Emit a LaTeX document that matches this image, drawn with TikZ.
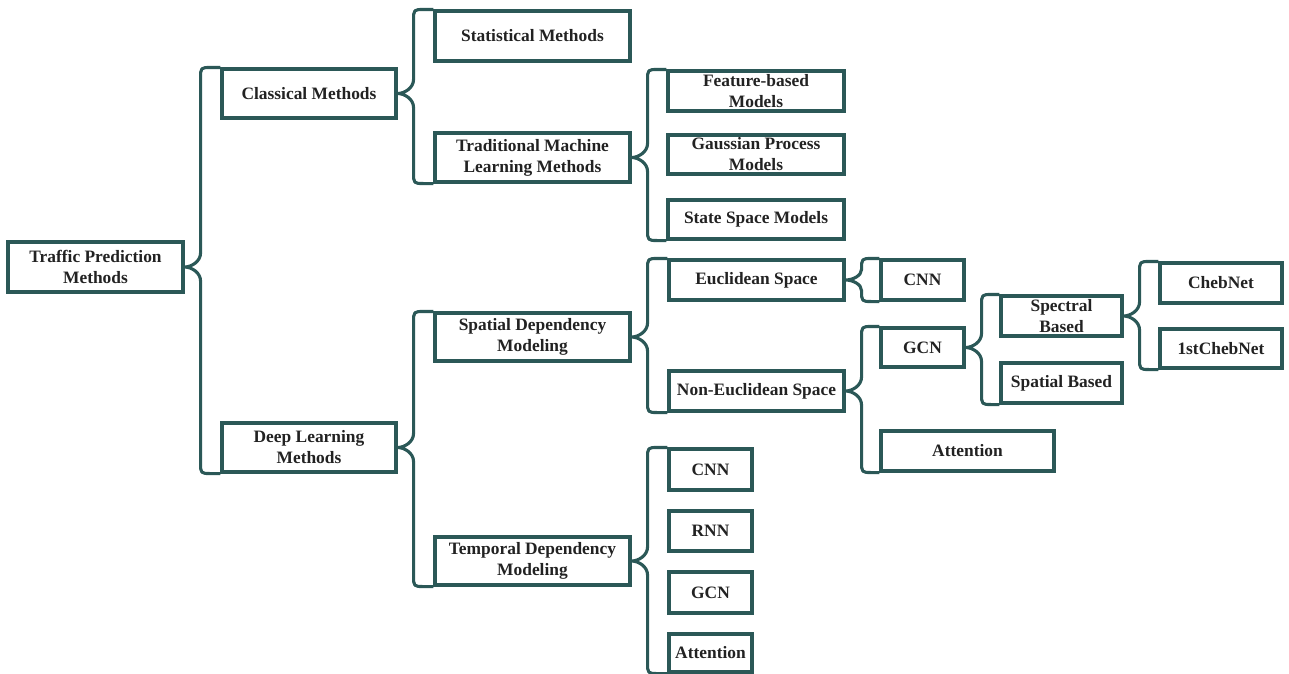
\documentclass[tikz,border=0pt]{standalone}
\usepackage{fontspec}
\setmainfont{Liberation Serif}
\usetikzlibrary{calc}
\definecolor{frame}{HTML}{2B5857}
\definecolor{textc}{HTML}{222222}
\tikzset{
  box/.style={draw=frame, line width=3.1pt, inner sep=0pt, align=center,
    font=\bfseries\fontsize{17.4}{21}\selectfont, text=textc},
  brace/.style={draw=frame, line width=3.1pt, line join=round}
}
% \bx{name}{cx}{cy}{width}{height}{text}
\newcommand\bx[6]{\node[box, minimum width=#4pt, minimum height=#5pt] (#1) at (#2,#3) {#6};}
% curly bracket from a parent's right side to the first and last child
\newcommand\fork[3]{%
  \draw[brace] let \p1=(#1.east), \p2=(#2.north west), \p3=(#3.south west),
    \n1={\x1+16pt}, \n2={min(14pt,\y2-\y1-11pt)}, \n3={min(14pt,\y1-\y3-11pt)} in
    (\p2) -- (\n1+11pt,\y2) .. controls (\n1,\y2) .. (\n1,\y2-11pt)
    -- (\n1,\y1+\n2) .. controls (\n1,\y1+0.4*\n2) and (\x1+7pt,\y1) .. (\x1,\y1)
    .. controls (\x1+7pt,\y1) and (\n1,\y1-0.4*\n3) .. (\n1,\y1-\n3)
    -- (\n1,\y3+11pt) .. controls (\n1,\y3) .. (\n1+11pt,\y3) -- (\p3);}
\begin{document}
\begin{tikzpicture}[x=1pt, y=-1pt]
\useasboundingbox (0,0) rectangle (1289,673);
% level 0 and 1
\bx{tp}{95.5}{267}{175}{50}{Traffic Prediction\\Methods}
\bx{cl}{309}{93.5}{174}{49}{Classical Methods}
\bx{dl}{309}{447.5}{174}{49}{Deep Learning\\Methods}
% classical branch
\bx{sm}{532.5}{36}{195}{50}{Statistical Methods}
\bx{tml}{532.5}{157.5}{195}{49}{Traditional Machine\\Learning Methods}
\bx{fb}{756}{91}{176}{40}{Feature-based\\Models}
\bx{gp}{756}{154.5}{176}{39}{Gaussian Process\\Models}
\bx{ss}{756}{219.5}{176}{39}{State Space Models}
% deep learning branch
\bx{sd}{532.5}{337}{195}{48}{Spatial Dependency\\Modeling}
\bx{td}{532.5}{561}{195}{48}{Temporal Dependency\\Modeling}
\bx{eu}{756.5}{280}{175}{40}{Euclidean Space}
\bx{ne}{756.5}{391}{175}{40}{Non-Euclidean Space}
\bx{cnn1}{922.5}{280}{83}{40}{CNN}
\bx{gcn1}{922.5}{347.5}{83}{39}{GCN}
\bx{att1}{967.5}{451}{173}{40}{Attention}
\bx{spec}{1061.5}{316}{121}{40}{Spectral\\Based}
\bx{spat}{1061.5}{383}{121}{40}{Spatial Based}
\bx{cheb}{1221}{283}{122}{40}{ChebNet}
\bx{first}{1221}{348.5}{122}{39}{1stChebNet}
\bx{tcnn}{710.5}{469.5}{83}{41}{CNN}
\bx{trnn}{710.5}{531}{83}{40}{RNN}
\bx{tgcn}{710.5}{592.5}{83}{41}{GCN}
\bx{tatt}{710.5}{653}{83}{38}{Attention}
% brackets
\fork{tp}{cl}{dl}
\fork{cl}{sm}{tml}
\fork{tml}{fb}{ss}
\fork{dl}{sd}{td}
\fork{sd}{eu}{ne}
\fork{eu}{cnn1}{cnn1}
\fork{ne}{gcn1}{att1}
\fork{gcn1}{spec}{spat}
\fork{spec}{cheb}{first}
\fork{td}{tcnn}{tatt}
\end{tikzpicture}
\end{document}
